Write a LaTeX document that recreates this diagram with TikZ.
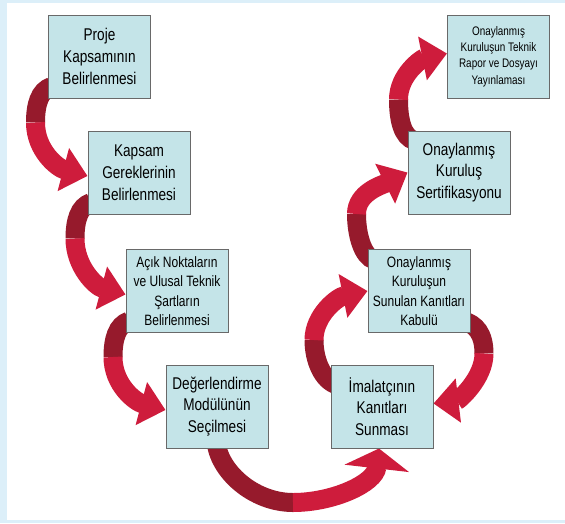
\documentclass[tikz,border=0pt]{standalone}
\usepackage{fontspec}
\setmainfont{Liberation Sans}[FakeStretch=0.8]
\usetikzlibrary{arrows.meta,calc}
\definecolor{ribbonred}{RGB}{206,28,60}
\definecolor{ribbondark}{RGB}{150,26,44}
\definecolor{boxfill}{RGB}{196,228,232}
\definecolor{boxline}{RGB}{105,105,105}
\definecolor{framebg}{RGB}{220,239,249}
\pgfdeclarelayer{back}
\pgfsetlayers{back,main}
\tikzset{
  stepbox/.style={draw=boxline, fill=boxfill, line width=1pt, minimum width=102pt,
    minimum height=83pt, inner sep=0pt, align=center,
    font=\fontsize{17}{21.8}\selectfont},
  midtext/.style={font=\fontsize{15}{19.5}\selectfont},
  smalltext/.style={font=\fontsize{12.4}{16.4}\selectfont},
  back ribbon/.style={draw=ribbondark, line width=19pt},
  front ribbon/.style={draw=ribbonred, line width=19pt, -{Triangle[length=25pt,width=43pt]}},
  bottom ribbon/.style={draw=ribbonred, line width=19pt, -{Triangle[length=20pt,width=64pt]}}
}
\begin{document}
\begin{tikzpicture}[x=1pt,y=-1pt]
  \useasboundingbox (0,0) rectangle (565,523);

  \node[stepbox] (proje) at (99.5,56.5) {Proje\\Kapsamının\\Belirlenmesi};
  \node[stepbox] (kapsam) at (139,172.5) {Kapsam\\Gereklerinin\\Belirlenmesi};
  \node[stepbox, midtext] (acik) at (177,291) {Açık Noktaların\\ve Ulusal Teknik\\Şartların\\Belirlenmesi};
  \node[stepbox] (deger) at (217,406.5) {Değerlendirme\\Modülünün\\Seçilmesi};
  \node[stepbox] (imal) at (382,406.5) {İmalatçının\\Kanıtları\\Sunması};
  \node[stepbox, midtext] (oksun) at (419,291) {Onaylanmış\\Kuruluşun\\Sunulan Kanıtları\\Kabulü};
  \node[stepbox] (oksert) at (459,172.5) {Onaylanmış\\Kuruluş\\Sertifikasyonu};
  \node[stepbox, smalltext] (oktek) at (498.5,56.5) {Onaylanmış\\Kuruluşun Teknik\\Rapor ve Dosyayı\\Yayınlaması};

  \coordinate (t1) at ($(proje.south west)+(-12.5,24)$);
  \coordinate (t2) at ($(kapsam.south west)+(-12.5,24)$);
  \coordinate (t3) at ($(acik.south west)+(-12.5,24)$);
  \coordinate (t4) at ($(deger.south)+(76,54)$);
  \coordinate (t5) at ($(imal.west)+(-16.5,-66.5)$);
  \coordinate (t6) at ($(oksun.south east)+(13.5,20.5)$);
  \coordinate (t7) at ($(oksun.north west)+(-11,-35)$);
  \coordinate (t8) at ($(oksert.north west)+(-9,-31)$);

  \begin{pgfonlayer}{back}
    \fill[framebg] (0,0) rectangle (565,523);
    \fill[white] (7,3) rectangle (565,520);

    \draw[back ribbon] ($(proje.south west)+(3.5,-12)$) .. controls +(-12,4) and +(0,-18) .. (t1);
    \draw[front ribbon] (t1) .. controls +(0,28) and +(-30,-8) .. ($(kapsam.west)+(0,3.5)$);

    \draw[back ribbon] ($(kapsam.south west)+(3.5,-12)$) .. controls +(-12,4) and +(0,-18) .. (t2);
    \draw[front ribbon] (t2) .. controls +(0,28) and +(-30,-8) .. ($(acik.west)+(0,3.5)$);

    \draw[back ribbon] ($(acik.south west)+(3.5,-12)$) .. controls +(-12,4) and +(0,-18) .. (t3);
    \draw[front ribbon] (t3) .. controls +(0,28) and +(-30,-8) .. ($(deger.west)+(0,3.5)$);

    \draw[back ribbon] ($(deger.south)+(-1,-8)$) .. controls +(2,30) and +(-40,0) .. (t4);
    \draw[bottom ribbon] (t4) .. controls +(40,0) and +(-4,35) .. ($(imal.south)+(-3,0)$);

    \draw[back ribbon] ($(imal.west)+(7,-21.5)$) .. controls +(-15,-4) and +(0,20) .. (t5);
    \draw[front ribbon] (t5) .. controls +(0,-25) and +(-30,6) .. (oksun.west);

    \draw[back ribbon] ($(oksun.south east)+(-7,-12)$) .. controls +(12,3) and +(0,-20) .. (t6);
    \draw[front ribbon] (t6) .. controls +(0,25) and +(25,-3) .. ($(imal.east)+(0,-3)$);

    \draw[back ribbon] ($(oksun.north west)+(7,11)$) .. controls +(-12,-3) and +(0,20) .. (t7);
    \draw[front ribbon] (t7) .. controls +(0,-22) and +(-24,12) .. (oksert.west);

    \draw[back ribbon] ($(oksert.north west)+(7,10)$) .. controls +(-12,-3) and +(0,20) .. (t8);
    \draw[front ribbon] (t8) .. controls +(0,-25) and +(-25,5) .. ($(oktek.west)+(0,-3)$);
  \end{pgfonlayer}
\end{tikzpicture}
\end{document}
